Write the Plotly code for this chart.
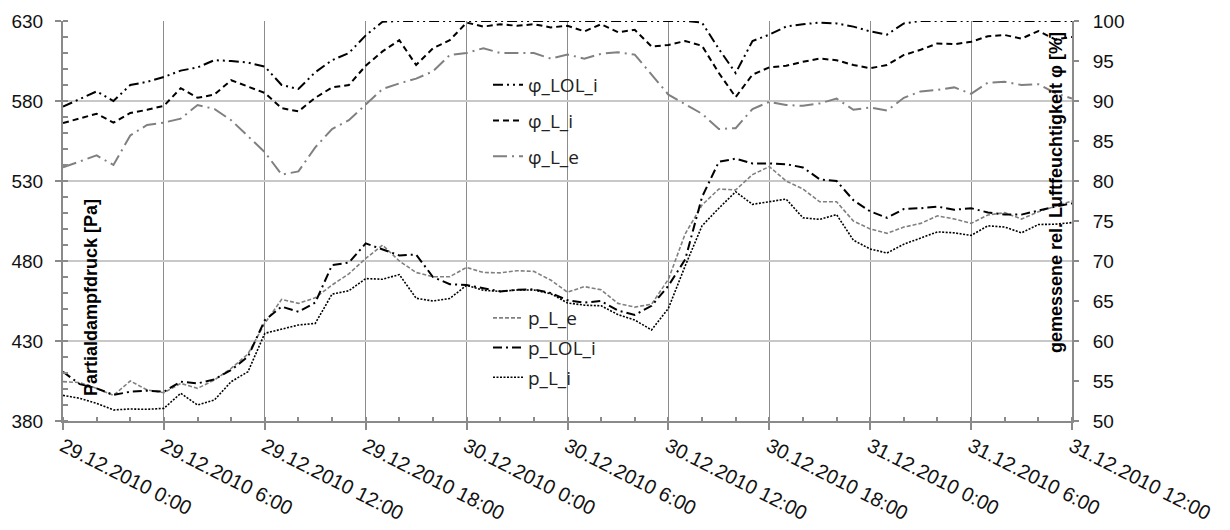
import pandas as pd
import plotly.graph_objects as go

# ---------------- data (hourly, 29.12.2010 0:00 ... 31.12.2010 12:00) ----------------
times = pd.date_range("2010-12-29 00:00", "2010-12-31 12:00", freq="1h")

phi_LOL_i = [89.3, 90.2, 91.2, 90.0, 92.0, 92.4, 93.0, 93.8, 94.2, 95.1,
             95.0, 94.8, 94.3, 92.0, 91.5, 93.6, 95.1, 96.0, 98.2, 99.9,
             100, 100, 100, 100, 100, 100, 100, 100, 100, 100,
             100, 100, 100, 100, 100, 100, 100, 100, 99.8, 96.5,
             93.5, 97.5, 98.3, 99.3, 99.6, 99.8, 99.7, 99.3, 98.7, 98.3,
             99.7, 100, 100, 100, 100, 100, 100, 100, 100, 100, 100]

phi_L_i = [87.25, 87.8, 88.4, 87.3, 88.5, 88.9, 89.4, 91.6, 90.4, 90.8,
           92.6, 91.8, 91.0, 89.1, 88.7, 90.4, 91.7, 92.0, 94.4, 96.2,
           97.6, 94.5, 96.6, 97.6, 99.8, 99.3, 99.6, 99.4, 99.6, 99.2,
           99.4, 98.7, 99.6, 98.6, 98.9, 96.8, 97.0, 97.5, 96.9, 93.5,
           90.5, 93.3, 94.2, 94.4, 94.9, 95.3, 95.1, 94.5, 94.1, 94.5,
           95.75, 96.4, 97.2, 97.1, 97.4, 98.1, 98.25, 97.8, 98.75, 97.7, 98.0]

phi_L_e = [81.7, 82.5, 83.2, 82.0, 85.7, 87.0, 87.3, 87.8, 89.5, 89.0,
           87.6, 85.6, 83.6, 80.8, 81.2, 84.2, 86.5, 87.6, 89.6, 91.5,
           92.2, 92.8, 93.7, 95.75, 96.0, 96.6, 96.0, 96.0, 96.0, 95.3,
           95.8, 95.3, 95.9, 96.1, 95.8, 93.3, 90.8, 89.6, 88.4, 86.5,
           86.6, 89.0, 89.9, 89.5, 89.4, 89.7, 90.3, 88.9, 89.2, 88.8,
           90.4, 91.2, 91.4, 91.7, 90.9, 92.3, 92.4, 92.0, 92.1, 91.0, 90.3]

p_L_e = [404.6, 404.0, 400.4, 396.0, 405.0, 399.4, 397.7, 403.5, 400.4, 405.6,
         412.9, 421.9, 441.0, 456.0, 453.5, 457.0, 465.0, 472.0, 481.6, 490.0,
         480.0, 472.8, 470.2, 470.2, 476.0, 472.8, 472.6, 473.9, 473.5, 468.1,
         460.5, 464.0, 462.0, 453.5, 451.2, 453.0, 468.6, 497.0, 515.0, 525.0,
         524.4, 534.0, 539.0, 530.0, 525.0, 517.0, 517.0, 505.0, 500.0, 497.3,
         501.2, 503.5, 508.2, 506.3, 503.5, 508.75, 510.2, 506.2, 510.8, 514.0, 517.5]

p_LOL_i = [410.8, 403.0, 400.4, 396.3, 398.3, 399.0, 398.3, 404.6, 403.5, 406.0,
           411.9, 420.2, 443.0, 451.5, 448.3, 454.0, 477.5, 479.0, 491.0, 487.0,
           483.5, 484.0, 470.0, 465.5, 465.0, 463.0, 461.0, 462.0, 462.3, 460.0,
           455.5, 454.0, 455.0, 449.0, 446.3, 452.0, 464.5, 481.0, 520.0, 542.0,
           544.0, 541.0, 541.0, 540.5, 538.5, 531.0, 530.0, 518.0, 511.0, 507.0,
           512.5, 513.0, 514.0, 512.0, 513.0, 510.3, 509.0, 509.0, 511.5, 514.0, 516.0]

p_L_i = [396.0, 394.2, 391.0, 386.9, 387.5, 387.3, 387.9, 397.3, 390.0, 393.1,
         404.6, 410.8, 434.8, 437.3, 440.0, 441.0, 459.3, 461.4, 469.0, 468.6,
         471.5, 456.7, 455.0, 456.6, 464.8, 461.7, 461.0, 461.9, 461.9, 459.6,
         453.8, 452.4, 452.0, 446.5, 443.1, 436.9, 450.4, 477.0, 502.0, 513.0,
         523.3, 515.4, 517.0, 518.7, 507.0, 506.0, 509.0, 493.0, 487.5, 485.0,
         490.5, 494.5, 498.2, 497.6, 496.0, 502.0, 501.2, 497.6, 502.8, 503.0, 504.0]

x_tick_vals = ["2010-12-29 00:00", "2010-12-29 06:00", "2010-12-29 12:00",
               "2010-12-29 18:00", "2010-12-30 00:00", "2010-12-30 06:00",
               "2010-12-30 12:00", "2010-12-30 18:00", "2010-12-31 00:00",
               "2010-12-31 06:00", "2010-12-31 12:00"]
x_tick_text = ["29.12.2010 0:00", "29.12.2010 6:00", "29.12.2010 12:00",
               "29.12.2010 18:00", "30.12.2010 0:00", "30.12.2010 6:00",
               "30.12.2010 12:00", "30.12.2010 18:00", "31.12.2010 0:00",
               "31.12.2010 6:00", "31.12.2010 12:00"]

# ---------------- figure ----------------
fig = go.Figure()

phi_specs = [
    ("φ_LOL_i", phi_LOL_i, "#000000", "10px,4px,2px,4px,2px,4px", 2),
    ("φ_L_i", phi_L_i, "#000000", "6px,4px", 2),
    ("φ_L_e", phi_L_e, "#808080", "14px,5px,2px,5px", 2),
]
p_specs = [
    ("p_L_e", p_L_e, "#808080", "4px,2px", 1.6),
    ("p_LOL_i", p_LOL_i, "#000000", "9px,4px,2px,4px", 2),
    ("p_L_i", p_L_i, "#000000", "2px,1.5px", 1.6),
]

for name, vals, col, dash, w in phi_specs:
    fig.add_trace(go.Scatter(x=times, y=vals, name=name, mode="lines",
                             line=dict(color=col, dash=dash, width=w),
                             yaxis="y2", legend="legend", legendgroup=name))
for name, vals, col, dash, w in p_specs:
    fig.add_trace(go.Scatter(x=times, y=vals, name=name, mode="lines",
                             line=dict(color=col, dash=dash, width=w),
                             yaxis="y", legend="legend2", legendgroup=name))

axis_col = "#8a8a8a"
tick_font = dict(family="Liberation Sans, Arial, sans-serif", size=19, color="#111111")

# white panels behind the two legends (hide the grid there, like the original)
W, L0, R0, T0, B0 = 1009.0, 63, 158, 21, 421


def px_x(x):
    return (x - L0) / W


def px_y(y):
    return (B0 - y) / 400.0


legend_panels = [(452, 608, 72, 170), (452, 608, 307, 393)]
shapes = [dict(type="rect", xref="paper", yref="paper",
               x0=px_x(a), x1=px_x(b), y0=px_y(d), y1=px_y(c),
               fillcolor="white", line=dict(width=0), layer="between")
          for a, b, c, d in legend_panels]

fig.update_layout(
    width=1230, height=530,
    margin=dict(l=63, r=158, t=21, b=109, autoexpand=False),
    paper_bgcolor="white", plot_bgcolor="white",
    showlegend=True,
    shapes=shapes,
    xaxis=dict(
        type="date",
        range=["2010-12-29 00:00", "2010-12-31 12:00"],
        tickvals=x_tick_vals, ticktext=x_tick_text,
        tickangle=27,
        tickfont=dict(family="Liberation Sans, Arial, sans-serif", size=20, color="#111111"),
        ticklabelstandoff=-3,
        showgrid=True, gridcolor="#8c8c8c", gridwidth=1.2,
        showline=True, linecolor=axis_col, linewidth=2,
        ticks="outside", ticklen=7, tickcolor=axis_col, tickwidth=1.5,
        minor=dict(dtick=2 * 3600 * 1000, tick0="2010-12-29 00:00",
                   ticks="inside", ticklen=4, tickcolor=axis_col, showgrid=False),
        zeroline=False,
    ),
    yaxis=dict(
        range=[380, 630], dtick=50, tick0=380,
        tickfont=tick_font, ticklabelstandoff=8,
        showgrid=True, gridcolor="#c8c8c8", gridwidth=1.5,
        showline=True, linecolor=axis_col, linewidth=2,
        ticks="outside", ticklen=6, tickcolor=axis_col, tickwidth=1.5,
        minor=dict(dtick=10, ticks="inside", ticklen=5, tickcolor=axis_col, showgrid=False),
        zeroline=False,
    ),
    yaxis2=dict(
        range=[50, 100], dtick=5, tick0=50,
        overlaying="y", side="right",
        tickfont=tick_font, ticklabelstandoff=10,
        showgrid=False,
        showline=True, linecolor=axis_col, linewidth=2,
        ticks="outside", ticklen=5, tickcolor=axis_col, tickwidth=1.5,
        zeroline=False,
    ),
    legend=dict(
        x=px_x(488), y=px_y(66), xanchor="left", yanchor="top",
        bgcolor="rgba(255,255,255,0)", borderwidth=0,
        font=dict(family="Open Sans, sans-serif", size=19, color="#222222"),
        traceorder="grouped", tracegroupgap=8, itemwidth=30,
    ),
    legend2=dict(
        x=px_x(488), y=px_y(299), xanchor="left", yanchor="top",
        bgcolor="rgba(255,255,255,0)", borderwidth=0,
        font=dict(family="Open Sans, sans-serif", size=19, color="#222222"),
        traceorder="grouped", tracegroupgap=2, itemwidth=30,
    ),
    annotations=[
        dict(text="<b>Partialdampfdruck [Pa]</b>", textangle=-90,
             xref="paper", yref="paper", x=px_x(91), y=px_y(298),
             xanchor="center", yanchor="middle", showarrow=False,
             font=dict(family="Liberation Sans, Arial, sans-serif", size=18, color="#000000")),
        dict(text="<b>gemessene rel. Luftfeuchtigkeit φ [%]</b>", textangle=-90,
             xref="paper", yref="paper", x=px_x(1056), y=px_y(193),
             xanchor="center", yanchor="middle", showarrow=False,
             font=dict(family="Liberation Sans, Arial, sans-serif", size=18, color="#000000")),
    ],
)

fig.write_html("out.html")
